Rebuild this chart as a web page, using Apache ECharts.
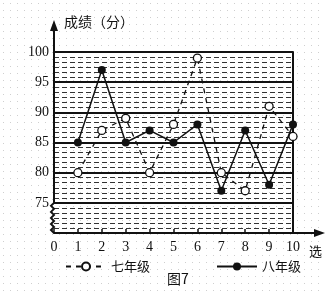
<!DOCTYPE html>
<html lang="zh">
<head>
<meta charset="UTF-8">
<title>图7</title>
<script src="https://cdn.jsdelivr.net/npm/echarts@6/dist/echarts.min.js"></script>
<style>
    html, body { margin: 0; padding: 0; background: #fff; }
    body {
        background-image: radial-gradient(circle, #cfcfcf 0.7px, transparent 1px);
        background-size: 7px 7px;
    }
    #chart { width: 325px; height: 294px; }
</style>
</head>
<body>
<div id="chart"></div>
<script>
// data
var players = [1, 2, 3, 4, 5, 6, 7, 8, 9, 10];
var grade7 = [80, 87, 89, 80, 88, 99, 80, 77, 91, 86];   // 七年级
var grade8 = [85, 97, 85, 87, 85, 88, 77, 87, 78, 88];   // 八年级
var yTicks = [75, 80, 85, 90, 95, 100];

var serif = 'Liberation Serif';
var cjk = 'Noto Sans CJK SC';

var chart = echarts.init(document.getElementById('chart'));

function pairs(vals) {
    return players.map(function (p, i) { return [p, vals[i]]; });
}

var option = {
    animation: false,
    title: {
        text: '图7',
        left: 162,
        top: 267,
        textStyle: { fontFamily: cjk, fontSize: 14, fontWeight: 'normal', color: '#111' }
    },
    legend: {
        data: ['七年级', '八年级'],
        left: 60,
        top: 255,
        itemWidth: 40,
        itemHeight: 10,
        itemGap: 66,
        textStyle: { fontFamily: cjk, fontSize: 13, color: '#111' }
    },
    grid: { left: 54, right: 28, top: 52, bottom: 61 },
    xAxis: {
        type: 'value',
        min: 0,
        max: 10,
        interval: 1,
        name: '选',
        nameLocation: 'end',
        nameGap: 16,
        nameTextStyle: { fontFamily: cjk, fontSize: 13, color: '#111', verticalAlign: 'top', padding: [12, 0, 0, 0] },
        axisLine: { show: true, lineStyle: { color: '#111', width: 2 } },
        axisTick: { show: true, inside: true, length: 4, lineStyle: { color: '#111', width: 1.5 } },
        axisLabel: { margin: 7, fontFamily: serif, fontSize: 14, color: '#111' },
        splitLine: { show: false }
    },
    yAxis: [{
        type: 'value',
        min: 70,
        max: 100,
        interval: 5,
        name: '成绩（分）',
        nameLocation: 'end',
        nameGap: 23,
        nameTextStyle: { fontFamily: cjk, fontSize: 14, color: '#111', align: 'left', padding: [0, 0, 0, 10] },
        axisLine: { show: false },
        axisTick: { show: false },
        axisLabel: {
            margin: 5,
            fontFamily: serif,
            fontSize: 14,
            color: '#111',
            formatter: function (v) { return yTicks.indexOf(v) >= 0 ? String(v) : ''; }
        },
        splitLine: { show: true, lineStyle: { color: '#111', width: 2 } },
        minorTick: { show: false, splitNumber: 6 },
        minorSplitLine: { show: true, lineStyle: { color: '#333', width: 1, type: [5, 3] } }
    }, {
        type: 'value',
        min: 70,
        max: 100,
        position: 'right',
        axisLine: { show: true, lineStyle: { color: '#111', width: 2 } },
        axisTick: { show: false },
        axisLabel: { show: false },
        splitLine: { show: false }
    }],
    series: [{
        name: '七年级',
        type: 'line',
        data: pairs(grade7),
        symbol: 'circle',
        symbolSize: 8,
        lineStyle: { color: '#111', width: 1.3, type: [5, 5] },
        itemStyle: { color: '#fff', borderColor: '#111', borderWidth: 1.3 },
        z: 3
    }, {
        name: '八年级',
        type: 'line',
        data: pairs(grade8),
        symbol: 'circle',
        symbolSize: 8,
        lineStyle: { color: '#111', width: 1.5 },
        itemStyle: { color: '#111' },
        z: 4
    }]
};

chart.setOption(option);

// axis arrows and the broken-axis zigzag
var o = chart.convertToPixel({ xAxisIndex: 0, yAxisIndex: 0 }, [0, 70]);
var b = chart.convertToPixel({ xAxisIndex: 0, yAxisIndex: 0 }, [0, 75]);
var r = chart.convertToPixel({ xAxisIndex: 0, yAxisIndex: 0 }, [10, 70]);
var yTop = 20;
var pts = [[o[0], o[1]]];
var n = 10;
for (var i = 1; i <= n; i++) {
    var y = o[1] - (o[1] - b[1]) * i / n;
    pts.push([i % 2 ? o[0] - 3 : o[0], y]);
}
pts.push([o[0], yTop + 8]);

chart.setOption({
    graphic: [{
        type: 'polyline',
        shape: { points: pts },
        style: { stroke: '#111', lineWidth: 2, fill: null },
        z: 10
    }, {
        type: 'polygon',
        shape: { points: [[o[0], yTop], [o[0] - 4, yTop + 11], [o[0] + 4, yTop + 11]] },
        style: { fill: '#111' },
        z: 10
    }, {
        type: 'line',
        shape: { x1: r[0], y1: r[1], x2: 316, y2: r[1] },
        style: { stroke: '#111', lineWidth: 2 },
        z: 10
    }, {
        type: 'polygon',
        shape: { points: [[325, r[1]], [314, r[1] - 4], [314, r[1] + 4]] },
        style: { fill: '#111' },
        z: 10
    }]
});
</script>
</body>
</html>
